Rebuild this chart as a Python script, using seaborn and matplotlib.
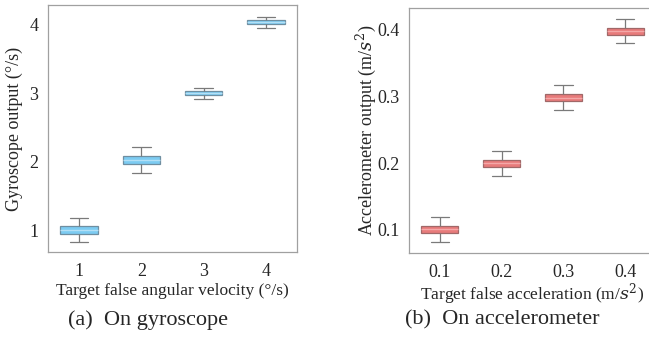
import numpy as np
import pandas as pd
import seaborn as sns
import matplotlib.pyplot as plt

# gyroscope: target false angular velocity vs measured output (deg/s)
gyro_target = [1, 2, 3, 4]
gyro_min = [0.82, 1.84, 2.91, 3.95]
gyro_q1 = [0.95, 1.97, 2.97, 4.01]
gyro_med = [1.00, 2.02, 3.00, 4.04]
gyro_q3 = [1.06, 2.08, 3.03, 4.07]
gyro_max = [1.18, 2.21, 3.08, 4.12]

# accelerometer: target false acceleration vs measured output (m/s^2)
acc_target = [0.1, 0.2, 0.3, 0.4]
acc_min = [0.082, 0.181, 0.280, 0.381]
acc_q1 = [0.096, 0.195, 0.293, 0.393]
acc_med = [0.101, 0.200, 0.298, 0.398]
acc_q3 = [0.106, 0.205, 0.304, 0.403]
acc_max = [0.119, 0.218, 0.317, 0.416]


def to_long(target, lo, q1, med, q3, hi, fmt):
    rows = []
    for i, t in enumerate(target):
        for v in (lo[i], q1[i], med[i], q3[i], hi[i]):
            rows.append({'target': fmt.format(t), 'value': v})
    return pd.DataFrame(rows)


gyro = to_long(gyro_target, gyro_min, gyro_q1, gyro_med, gyro_q3, gyro_max, '{:d}')
acc = to_long(acc_target, acc_min, acc_q1, acc_med, acc_q3, acc_max, '{:.1f}')

sns.set_style('white')
plt.rcParams['font.family'] = ['Liberation Serif', 'DejaVu Serif']
plt.rcParams['mathtext.fontset'] = 'dejavuserif'

fig = plt.figure(figsize=(6.49, 3.39), dpi=100)
ax1 = fig.add_axes([48 / 649, 1 - 252 / 339, 249 / 649, 247 / 339])
ax2 = fig.add_axes([409 / 649, 1 - 253 / 339, 247 / 649, 245 / 339])

spine_col = '#a0a0a0'


def draw(ax, df, fill, edge, medc, ylim, yticks, yfmt, xlabel, ylabel,
         caption, cap_x, xlab_y, ylab_x):
    sns.boxplot(data=df, x='target', y='value', ax=ax, whis=np.inf, width=0.6,
                color=fill, saturation=1, linewidth=0.9,
                boxprops=dict(facecolor=fill, edgecolor=edge),
                medianprops=dict(color=medc, linewidth=1.0),
                whiskerprops=dict(color='#7a7a7a'),
                capprops=dict(color='#7a7a7a'), showfliers=False)
    ax.set_xlim(-0.5, 3.5)
    ax.set_ylim(*ylim)
    ax.set_yticks(yticks)
    ax.set_yticklabels([yfmt.format(v) for v in yticks])
    ax.tick_params(axis='both', labelsize=13, length=3, color=spine_col,
                   direction='in', pad=7)
    ax.tick_params(axis='x', pad=8)
    for s in ax.spines.values():
        s.set_color(spine_col)
        s.set_linewidth(0.9)
    ax.set_xlabel(xlabel, fontsize=12.5, va='center')
    ax.set_ylabel(ylabel, fontsize=13, va='center')
    ax.xaxis.set_label_coords(0.5, xlab_y)
    ax.yaxis.set_label_coords(ylab_x, 0.5)
    fig.text(cap_x / 649, 1 - 320 / 339, caption, ha='center', va='center',
             fontsize=16)


draw(ax1, gyro, '#7ccbf2', '#6f8ea0', '#b4e0f6', (0.68, 4.29), [1, 2, 3, 4], '{:d}',
     'Target false angular velocity (°/s)', 'Gyroscope output (°/s)',
     '(a)  On gyroscope', 148, -0.158, -0.137)
draw(ax2, acc, '#e87b7b', '#a06868', '#f4a8a8', (0.0655, 0.433), [0.1, 0.2, 0.3, 0.4],
     '{:.1f}', 'Target false acceleration (m/$s^2$)', 'Accelerometer output (m/$s^2$)',
     '(b)  On accelerometer', 502, -0.168, -0.176)

fig.savefig('out.png', dpi=100)
